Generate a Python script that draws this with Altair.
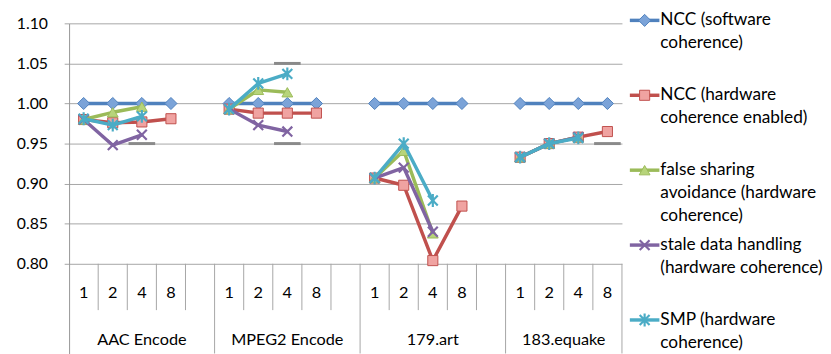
import altair as alt
import pandas as pd

# ---------------- data ----------------
GROUPS = ["AAC Encode", "MPEG2 Encode", "179.art", "183.equake"]
THREADS = ["1", "2", "4", "8"]
SERIES = [
    "NCC (software coherence)",
    "NCC (hardware coherence enabled)",
    "false sharing avoidance (hardware coherence)",
    "stale data handling (hardware coherence)",
    "SMP (hardware coherence)",
]
LEGEND_LINES = [
    ["NCC (software", "coherence)"],
    ["NCC (hardware", "coherence enabled)"],
    ["false sharing", "avoidance (hardware", "coherence)"],
    ["stale data handling", "(hardware coherence)"],
    ["SMP (hardware", "coherence)"],
]
# values per group (AAC, MPEG2, 179.art, 183.equake) x threads (1, 2, 4, 8)
NCC_SW = [1.000, 1.000, 1.000, 1.000, 1.000, 1.000, 1.000, 1.000,
          1.000, 1.000, 1.000, 1.000, 1.000, 1.000, 1.000, 1.000]
NCC_HW = [0.980, 0.976, 0.977, 0.981, 0.993, 0.988, 0.988, 0.988,
          0.907, 0.898, 0.804, 0.872, 0.933, 0.950, 0.958, 0.965]
FSA = [0.980, 0.989, 0.996, None, 0.993, 1.017, 1.014, None,
       0.907, 0.941, 0.838, None, 0.933, 0.950, 0.958, None]
STALE = [0.980, 0.948, 0.961, None, 0.993, 0.973, 0.965, None,
         0.907, 0.920, 0.840, None, 0.933, 0.950, 0.958, None]
SMP = [0.981, 0.973, 0.984, None, 0.993, 1.025, 1.037, None,
       0.907, 0.950, 0.879, None, 0.933, 0.950, 0.957, None]
VALUES = [NCC_SW, NCC_HW, FSA, STALE, SMP]
Y_TICKS = [0.80, 0.85, 0.90, 0.95, 1.00, 1.05, 1.10]
CAP_GROUP = ["AAC Encode", "MPEG2 Encode", "MPEG2 Encode", "183.equake"]
CAP_THREAD = ["4", "4", "4", "8"]
CAP_VALUE = [0.95, 0.95, 1.05, 0.95]

# ---------------- styles ----------------
LINE_COLORS = ["#4F81BD", "#C0504D", "#9BBB59", "#8064A2", "#4BACC6"]
MARKER_FILLS = ["#7BA3D8", "#F0A3A1", "#B7D47A", None, None]
MARKER_SHAPES = ["diamond", "square", "triangle-up",
                 "M-1,-1L1,1M-1,1L1,-1",
                 "M-1,-1L1,1M-1,1L1,-1M0,-1.3L0,1.3"]
MARKER_SIZES = [150, 105, 120, 100, 100]
FONT = "Lato"
GRID = "#A6A6A6"
PLOT_W, PLOT_H = 561, 335
PX_PER_UNIT = 244 / 0.30
Y_TOP = 1.10
Y_MIN = Y_TOP - PLOT_H / PX_PER_UNIT
SEP_BOTTOM = Y_TOP - 291 / PX_PER_UNIT
NUM_ROW = Y_TOP - 274 / PX_PER_UNIT
GRP_ROW = Y_TOP - 321 / PX_PER_UNIT
SLOTS = len(GROUPS) * (len(THREADS) + 1) - 1
LINE_PX = 23.5
ENTRY_ROWS = 76 / LINE_PX

def g_start(g):
    return g * (len(THREADS) + 1)

def g_end(g):
    return min(g_start(g) + len(THREADS) + 1, SLOTS)

# ---------------- tables ----------------
pts = []
for i, s in enumerate(SERIES):
    for g, gname in enumerate(GROUPS):
        for t, th in enumerate(THREADS):
            v = VALUES[i][g * len(THREADS) + t]
            if v is not None:
                pts.append(dict(series=s, group=gname, thread=th,
                                x=g_start(g) + t + 0.5, value=v))
pts = pd.DataFrame(pts)

seps = []
for g in range(len(GROUPS)):
    for b in range(g_start(g) + 1, g_end(g)):
        seps.append(dict(x=b, y0=Y_TICKS[0], y1=SEP_BOTTOM))
    seps.append(dict(x=g_end(g), y0=Y_TICKS[0], y1=Y_MIN))
seps = pd.DataFrame(seps)

nums = pd.DataFrame([dict(x=g_start(g) + t + 0.5, y=NUM_ROW, label=th)
                     for g in range(len(GROUPS)) for t, th in enumerate(THREADS)])
grps = pd.DataFrame([dict(x=(g_start(g) + g_end(g)) / 2, y=GRP_ROW, label=gname)
                     for g, gname in enumerate(GROUPS)])
caps = pd.DataFrame([dict(x=g_start(GROUPS.index(gn)) + THREADS.index(th) + 0.5, value=v)
                     for gn, th, v in zip(CAP_GROUP, CAP_THREAD, CAP_VALUE)])

# ---------------- encodings ----------------
xs = alt.Scale(domain=[0, SLOTS], nice=False, zero=False)
ys = alt.Scale(domain=[Y_MIN, Y_TOP], nice=False, zero=False)
yaxis = alt.Axis(values=Y_TICKS, format=".2f", title=None, grid=True,
                 gridColor=GRID, gridWidth=1, tickColor=GRID, tickSize=5,
                 domainColor="#959595", labelFont=FONT, labelFontSize=16,
                 labelColor="#000000", labelPadding=17)

def X(f):
    return alt.X(f, type="quantitative", scale=xs, axis=None)

def Y(f):
    return alt.Y(f, type="quantitative", scale=ys, axis=yaxis)

def marker(i, data, x, y):
    if MARKER_FILLS[i]:
        m = alt.Chart(data).mark_point(shape=MARKER_SHAPES[i], size=MARKER_SIZES[i],
                                       filled=True, fill=MARKER_FILLS[i],
                                       stroke=LINE_COLORS[i], strokeWidth=1, opacity=1)
    else:
        m = alt.Chart(data).mark_point(shape=MARKER_SHAPES[i], size=MARKER_SIZES[i],
                                       filled=False, color=LINE_COLORS[i],
                                       strokeWidth=2.2, opacity=1)
    return m.encode(x=x, y=y)

sep_layer = alt.Chart(seps).mark_rule(color=GRID, strokeWidth=1).encode(
    x=X("x"), y=Y("y0"), y2="y1")
num_layer = alt.Chart(nums).mark_text(font=FONT, fontSize=16.5, color="#000000").encode(
    x=X("x"), y=Y("y"), text="label:N")
grp_layer = alt.Chart(grps).mark_text(font=FONT, fontSize=16.5, color="#000000").encode(
    x=X("x"), y=Y("y"), text="label:N")
cap_layer = alt.Chart(caps).mark_tick(orient="horizontal", size=27, thickness=3,
                                      color="#8A8A8A", opacity=1).encode(
    x=X("x"), y=Y("value"))

series_layers = []
for i, s in enumerate(SERIES):
    d = pts[pts["series"] == s]
    line = alt.Chart(d).mark_line(color=LINE_COLORS[i], strokeWidth=3.5,
                                  strokeJoin="round", strokeCap="round").encode(
        x=X("x"), y=Y("value"), detail="group:N")
    series_layers += [line, marker(i, d, X("x"), Y("value"))]

main = alt.layer(sep_layer, num_layer, grp_layer, cap_layer, *series_layers).properties(
    width=PLOT_W, height=PLOT_H)

# ---------------- legend panel ----------------
LEG_W = 190
lxs = alt.Scale(domain=[0, LEG_W / 30], nice=False, zero=False)
lys = alt.Scale(domain=[3 / LINE_PX, 3 / LINE_PX + PLOT_H / LINE_PX],
                reverse=True, nice=False, zero=False)

def LX(f):
    return alt.X(f, type="quantitative", scale=lxs, axis=None)

def LY(f):
    return alt.Y(f, type="quantitative", scale=lys, axis=None)

leg_text = pd.DataFrame([dict(lx=1.03, lrow=k * ENTRY_ROWS + j, text=ln)
                         for k, lines in enumerate(LEGEND_LINES)
                         for j, ln in enumerate(lines)])
leg_layers = []
for i, s in enumerate(SERIES):
    d = pd.DataFrame([dict(series=s, l0=0, l1=1, lm=0.5, lrow=i * ENTRY_ROWS)])
    leg_layers.append(alt.Chart(d).mark_rule(color=LINE_COLORS[i], strokeWidth=3.5).encode(
        x=LX("l0"), x2="l1", y=LY("lrow")))
    leg_layers.append(marker(i, d, LX("lm"), LY("lrow")))
leg_layers.append(alt.Chart(leg_text).mark_text(align="left", baseline="middle", font=FONT,
                                                fontSize=17.5, color="#000000").encode(
    x=LX("lx"), y=LY("lrow"), text="text:N"))
legend = alt.layer(*leg_layers).properties(width=LEG_W, height=PLOT_H)

chart = alt.hconcat(main, legend, spacing=5).properties(
    padding={"left": 8, "top": 1, "right": 0, "bottom": 0},
    background="#FFFFFF",
).configure_view(stroke=None)

chart.save("out.html", embed_options={"renderer": "svg", "actions": False})
